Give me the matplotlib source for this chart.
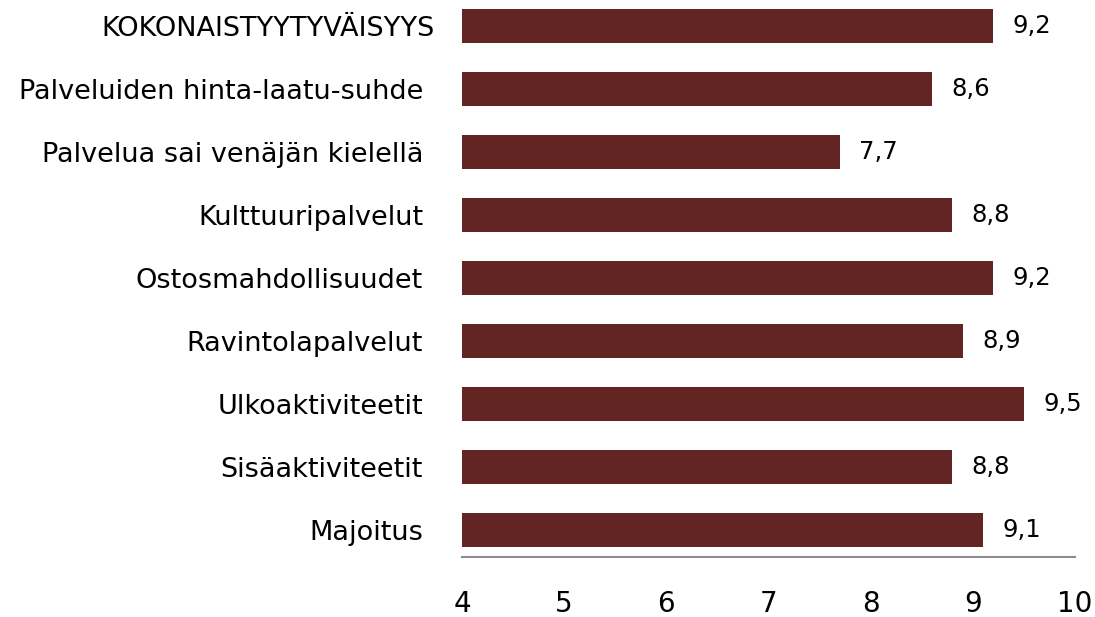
import matplotlib
matplotlib.use("Agg")
import matplotlib.pyplot as plt
import matplotlib.transforms as mtransforms

categories = ["Majoitus", "Sisäaktiviteetit", "Ulkoaktiviteetit", "Ravintolapalvelut",
              "Ostosmahdollisuudet", "Kulttuuripalvelut", "Palvelua sai venäjän kielellä",
              "Palveluiden hinta-laatu-suhde", "KOKONAISTYYTYVÄISYYS"]
values = [9.1, 8.8, 9.5, 8.9, 9.2, 8.8, 7.7, 8.6, 9.2]
xticks = [4, 5, 6, 7, 8, 9, 10]

fig = plt.figure(figsize=(10.95, 6.17), dpi=100)
ax = fig.add_axes([462/1095, 60/617, (1075-462)/1095, 557/617])
ypos = list(range(len(categories)))
ax.barh(ypos, [v - 4 for v in values], left=4, height=0.54, color="#632523")
ax.set_xlim(4, 10)
ax.set_ylim(-0.43, 8.41)
ax.set_yticks(ypos)
ax.set_yticklabels(categories, fontsize=19.5)
ax.set_xticks(xticks)
ax.set_xticklabels([str(t) for t in xticks], fontsize=20)
ax.tick_params(axis="y", length=0, pad=28)
ax.tick_params(axis="x", length=0, pad=24)
for s in ["top", "right", "left"]:
    ax.spines[s].set_visible(False)
ax.spines["bottom"].set_color("#8c8c8c")
ax.spines["bottom"].set_linewidth(1.5)
for y, v in zip(ypos, values):
    ax.text(v + 0.19, y, f"{v:.1f}".replace(".", ","), va="center", ha="left", fontsize=17.5)
# top label sits slightly further right in the reference
lbl = ax.get_yticklabels()[-1]
lbl.set_transform(lbl.get_transform() + mtransforms.ScaledTranslation(0.12, 0, fig.dpi_scale_trans))
fig.savefig("out.png", dpi=100)
